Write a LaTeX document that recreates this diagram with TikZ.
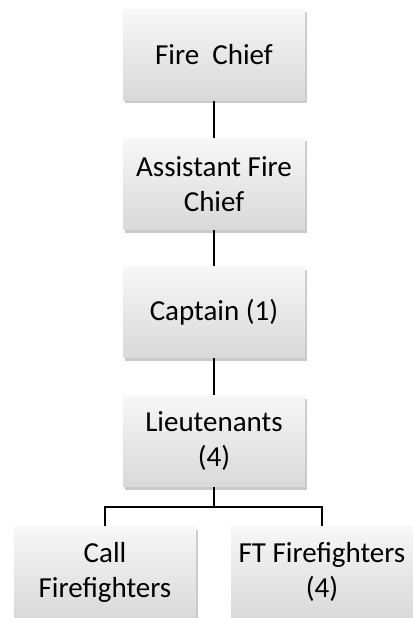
\documentclass[tikz,border=0pt]{standalone}
\usepackage{fontspec}
\setmainfont{Carlito}
\usetikzlibrary{shadows}
\begin{document}
\begin{tikzpicture}[x=1bp,y=-1bp,
  orgbox/.style={rectangle, minimum width=182bp, minimum height=91bp, inner sep=0pt,
    top color=gray!6, bottom color=gray!30, align=center,
    font=\fontsize{29bp}{35bp}\selectfont,
    drop shadow={shadow xshift=1.5bp, shadow yshift=-3bp, opacity=0.35, fill=black!60}},
  link/.style={line width=1.5bp, black}]
  \useasboundingbox (0,0) rectangle (412,618);
  \node[orgbox] (chief) at (214,55) {Fire\ \ Chief};
  \node[orgbox] (asst) at (214,184) {Assistant Fire\\Chief};
  \node[orgbox] (capt) at (214,312) {Captain (1)};
  \node[orgbox] (lt) at (214,441) {Lieutenants\\(4)};
  \node[orgbox] (call) at (105,572) {Call\\Firefighters};
  \node[orgbox] (ft) at (322,572) {FT Firefighters\\(4)};
  \draw[link] (chief) -- (asst);
  \draw[link] (asst) -- (capt);
  \draw[link] (capt) -- (lt);
  \coordinate (bus) at (214,507);
  \draw[link] (lt.south) -- (bus);
  \draw[link] (call.north) |- (bus) -| (ft.north);
\end{tikzpicture}
\end{document}
